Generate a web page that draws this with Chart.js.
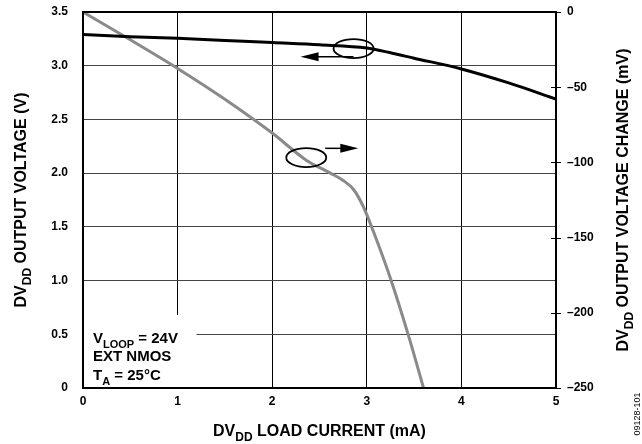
<!DOCTYPE html>
<html>
<head>
<meta charset="utf-8">
<script src="https://cdn.jsdelivr.net/npm/chart.js@4.4.1/dist/chart.umd.min.js"></script>
<style>
  html, body { margin: 0; padding: 0; background: #fff; }
  #wrap { width: 642px; height: 444px; }
</style>
</head>
<body>
<div id="wrap"><canvas id="myChart" width="642" height="444"></canvas></div>
<script>
// DVDD output voltage (left axis, V) vs load current (mA)
var voltCurrent = [0, 0.5, 1, 1.5, 2, 2.5, 3, 3.25, 3.5, 4, 4.5, 5];
var voltValues  = [3.29, 3.27, 3.255, 3.235, 3.215, 3.195, 3.165, 3.12, 3.07, 2.97, 2.84, 2.69];

// DVDD output voltage change (right axis, mV) vs load current (mA)
var changeCurrent = [0, 0.5, 1, 1.5, 2, 2.36, 2.61, 2.75, 2.86, 2.96, 3.07, 3.26, 3.44, 3.6];
var changeValues  = [0, -18.5, -37.5, -58, -80.5, -98.5, -107, -112, -118, -129, -146, -179, -215, -250];

var xTicks = [0, 1, 2, 3, 4, 5];
var leftTicks = [0, 0.5, 1, 1.5, 2, 2.5, 3, 3.5];
var rightTicks = [-250, -200, -150, -100, -50, 0];

var FONT = '"Liberation Sans", Arial, Helvetica, sans-serif';

function pts(xs, ys) {
  return xs.map(function (x, i) { return { x: x, y: ys[i] }; });
}

// text with subscript parts
function subText(ctx, parts, x, y, size, align) {
  var subSize = Math.round(size * 0.75);
  var total = 0;
  parts.forEach(function (p) {
    ctx.font = 'bold ' + (p[1] ? subSize : size) + 'px ' + FONT;
    total += ctx.measureText(p[0]).width;
  });
  var cx = align === 'center' ? x - total / 2 : x;
  parts.forEach(function (p) {
    ctx.font = 'bold ' + (p[1] ? subSize : size) + 'px ' + FONT;
    ctx.textAlign = 'left';
    ctx.textBaseline = 'alphabetic';
    ctx.fillText(p[0], cx, y + (p[1] ? size * 0.3 : 0));
    cx += ctx.measureText(p[0]).width;
  });
}

var decor = {
  id: 'decor',
  beforeDatasetsDraw: function (chart) {
    var ctx = chart.ctx, a = chart.chartArea, xs = chart.scales.x, ys = chart.scales.y;
    // blank box behind the conditions note
    ctx.save();
    ctx.fillStyle = '#fff';
    var bx = a.left + 1, by = ys.getPixelForValue(0.68);
    ctx.fillRect(bx, by, xs.getPixelForValue(1.2) - bx, a.bottom - by);
    ctx.restore();
  },
  afterDraw: function (chart) {
    var ctx = chart.ctx, a = chart.chartArea;
    var xs = chart.scales.x, ys = chart.scales.y, y2 = chart.scales.y2;
    ctx.save();
    // frame
    ctx.strokeStyle = '#000';
    ctx.lineWidth = 2;
    ctx.strokeRect(a.left, a.top, a.right - a.left, a.bottom - a.top);

    // right axis tick marks crossing the border
    ctx.lineWidth = 1;
    rightTicks.forEach(function (v) {
      var py = Math.round(y2.getPixelForValue(v)) + 0.5;
      ctx.beginPath();
      ctx.moveTo(a.right - 5, py);
      ctx.lineTo(a.right + 5, py);
      ctx.stroke();
    });

    // ellipses + arrows
    function ellipse(xv, yv) {
      ctx.beginPath();
      ctx.ellipse(xs.getPixelForValue(xv), ys.getPixelForValue(yv), 20, 9.5, 0, 0, Math.PI * 2);
      ctx.lineWidth = 1.8;
      ctx.stroke();
    }
    function arrow(x0, x1, yv) {
      var px0 = xs.getPixelForValue(x0), px1 = xs.getPixelForValue(x1), py = ys.getPixelForValue(yv);
      var dir = px1 > px0 ? 1 : -1;
      ctx.lineWidth = 1.5;
      ctx.beginPath();
      ctx.moveTo(px0, py);
      ctx.lineTo(px1 - dir * 10, py);
      ctx.stroke();
      ctx.beginPath();
      ctx.moveTo(px1, py);
      ctx.lineTo(px1 - dir * 18, py - 4.5);
      ctx.lineTo(px1 - dir * 18, py + 4.5);
      ctx.closePath();
      ctx.fillStyle = '#000';
      ctx.fill();
    }
    ellipse(2.86, 3.16);
    arrow(2.86, 2.30, 3.084);
    ellipse(2.36, 2.145);
    arrow(2.56, 2.91, 2.231);

    // conditions note
    ctx.fillStyle = '#000';
    var nx = a.left + 10;
    subText(ctx, [['V', 0], ['LOOP', 1], [' = 24V', 0]], nx, 343, 15, 'left');
    subText(ctx, [['EXT NMOS', 0]], nx, 361, 15, 'left');
    subText(ctx, [['T', 0], ['A', 1], [' = 25°C', 0]], nx, 380, 15, 'left');

    // x title
    subText(ctx, [['DV', 0], ['DD', 1], [' LOAD CURRENT (mA)', 0]], (a.left + a.right) / 2, 436, 16, 'center');

    // left title
    ctx.save();
    ctx.translate(26, (a.top + a.bottom) / 2);
    ctx.rotate(-Math.PI / 2);
    subText(ctx, [['DV', 0], ['DD', 1], [' OUTPUT VOLTAGE (V)', 0]], 0, 0, 16, 'center');
    ctx.restore();

    // right title
    ctx.save();
    ctx.translate(628, (a.top + a.bottom) / 2);
    ctx.rotate(-Math.PI / 2);
    subText(ctx, [['DV', 0], ['DD', 1], [' OUTPUT VOLTAGE CHANGE (mV)', 0]], 0, 0, 16, 'center');
    ctx.restore();

    // figure id
    ctx.save();
    ctx.translate(640, 414);
    ctx.rotate(-Math.PI / 2);
    ctx.font = '9px ' + FONT;
    ctx.textAlign = 'center';
    ctx.fillStyle = '#000';
    ctx.fillText('09128-101', 0, 0);
    ctx.restore();

    ctx.restore();
  }
};

// fixed axis sizes so the plot frame lands where the original has it
function fixV(width) {
  return function (s) { s.width = width; s.paddingTop = 0; s.paddingBottom = 0; };
}

var ctx = document.getElementById('myChart');
var myChart = new Chart(ctx, {
  type: 'line',
  data: {
    datasets: [{
      label: 'Output Voltage',
      data: pts(voltCurrent, voltValues),
      borderColor: '#000',
      borderWidth: 3,
      pointRadius: 0,
      cubicInterpolationMode: 'monotone',
      yAxisID: 'y'
    }, {
      label: 'Output Voltage Change',
      data: pts(changeCurrent, changeValues),
      borderColor: '#8a8a8a',
      borderWidth: 3,
      pointRadius: 0,
      cubicInterpolationMode: 'monotone',
      yAxisID: 'y2'
    }]
  },
  options: {
    responsive: false,
    animation: false,
    events: [],
    layout: { padding: { top: 12, left: 0, right: 0, bottom: 0 } },
    plugins: { legend: { display: false }, tooltip: { enabled: false } },
    scales: {
      x: {
        type: 'linear', min: 0, max: 5,
        afterBuildTicks: function (s) { s.ticks = xTicks.map(function (v) { return { value: v }; }); },
        afterFit: function (s) { s.height = 56; s.paddingLeft = 0; s.paddingRight = 0; },
        border: { display: false },
        grid: { color: '#000', lineWidth: 1, drawTicks: false },
        ticks: { padding: 6, color: '#000', font: { family: FONT, size: 12, weight: 'bold' } }
      },
      y: {
        position: 'left', min: 0, max: 3.5,
        afterBuildTicks: function (s) { s.ticks = leftTicks.map(function (v) { return { value: v }; }); },
        afterFit: fixV(83),
        border: { display: false },
        grid: { color: '#444', lineWidth: 1, drawTicks: false },
        ticks: {
          padding: 15, color: '#000', font: { family: FONT, size: 12, weight: 'bold' },
          callback: function (v) { return v === 0 ? '0' : v.toFixed(1); }
        }
      },
      y2: {
        position: 'right', min: -250, max: 0,
        afterBuildTicks: function (s) { s.ticks = rightTicks.map(function (v) { return { value: v }; }); },
        afterFit: fixV(86),
        border: { display: false },
        grid: { drawOnChartArea: false, drawTicks: false },
        ticks: {
          padding: 11, color: '#000', font: { family: FONT, size: 12, weight: 'bold' },
          callback: function (v) { return v === 0 ? '0' : '\u2013' + Math.abs(v); }
        }
      }
    }
  },
  plugins: [decor]
});
</script>
</body>
</html>
